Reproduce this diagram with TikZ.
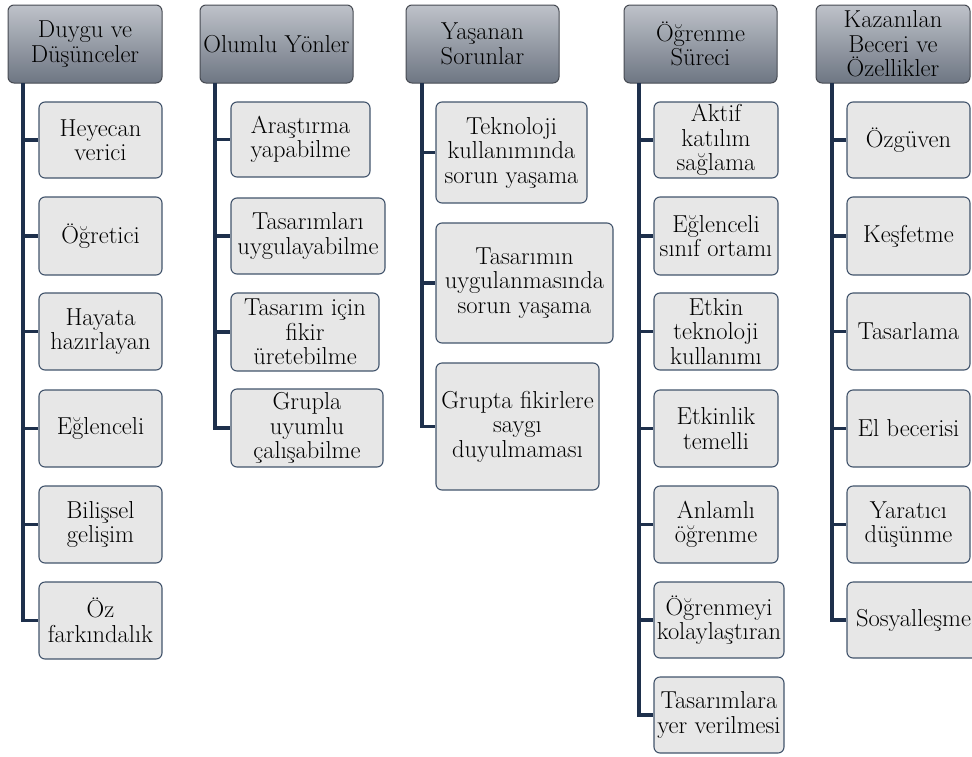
\documentclass[tikz,border=0pt]{standalone}
\usepackage{fontspec}
\definecolor{hdrTop}{RGB}{190,194,201}
\definecolor{hdrBot}{RGB}{110,118,131}
\definecolor{hdrLine}{RGB}{70,74,82}
\definecolor{childFill}{RGB}{231,231,231}
\definecolor{childLine}{RGB}{66,84,108}
\definecolor{connCol}{RGB}{30,48,76}
\tikzset{
  boxfont/.style={font=\fontsize{24.5}{24.5}\selectfont},
  header/.style={boxfont, rounded corners=6pt, top color=hdrTop, bottom color=hdrBot,
    draw=hdrLine, line width=1pt, inner sep=0pt, align=center, text=black},
  child/.style={boxfont, rounded corners=6pt, fill=childFill, draw=childLine,
    line width=1.1pt, inner sep=0pt, align=center, text=black},
  conn/.style={draw=connCol, line width=3.2pt, line join=miter}
}
\newcommand\placebox[7]{%
  \node[#1, minimum width={(#5-#3)*1pt}, minimum height={(#6-#4)*1pt}]
    (#2) at ({(#3+#5)/2},{(#4+#6)/2}) {#7};}
\begin{document}
\begin{tikzpicture}[x=1pt,y={(0pt,-1pt)}]
\useasboundingbox (0,0) rectangle (972,756);
% headers
\placebox{header}{h1}{8}{5}{162}{83}{Duygu ve\\Düşünceler}
\placebox{header}{h2}{200}{5}{353}{83}{Olumlu Yönler}
\placebox{header}{h3}{406}{5}{559}{83}{Yaşanan\\Sorunlar}
\placebox{header}{h4}{624}{5}{777}{83}{Öğrenme\\Süreci}
\placebox{header}{h5}{816}{5}{970}{83}{Kazanılan\\Beceri ve\\Özellikler}
% trunk tops
\coordinate (t1) at (23,83);
\coordinate (t2) at (215,83);
\coordinate (t3) at (422,83);
\coordinate (t4) at (639,83);
\coordinate (t5) at (832,83);
% column 1
\placebox{child}{a1}{39}{102}{162}{178}{Heyecan\\verici}
\placebox{child}{a2}{39}{197}{162}{275}{Öğretici}
\placebox{child}{a3}{39}{293}{162}{370}{Hayata\\hazırlayan}
\placebox{child}{a4}{39}{390}{162}{467}{Eğlenceli}
\placebox{child}{a5}{39}{486}{162}{563}{Bilişsel\\gelişim}
\placebox{child}{a6}{39}{582}{162}{659}{Öz\\farkındalık}
% column 2
\placebox{child}{b1}{231}{102}{370}{177}{Araştırma\\yapabilme}
\placebox{child}{b2}{231}{198}{385}{274}{Tasarımları\\uygulayabilme}
\placebox{child}{b3}{231}{293}{379}{371}{Tasarım için\\fikir\\üretebilme}
\placebox{child}{b4}{231}{389}{383}{467}{Grupla\\uyumlu\\çalışabilme}
% column 3
\placebox{child}{c1}{436}{102}{587}{203}{Teknoloji\\kullanımında\\sorun yaşama}
\placebox{child}{c2}{436}{223}{613}{343}{Tasarımın\\uygulanmasında\\sorun yaşama}
\placebox{child}{c3}{436}{363}{599}{490}{Grupta fikirlere\\saygı\\duyulmaması}
% column 4
\placebox{child}{d1}{654}{102}{778}{178}{Aktif\\katılım\\sağlama}
\placebox{child}{d2}{654}{197}{778}{275}{Eğlenceli\\sınıf ortamı}
\placebox{child}{d3}{654}{293}{778}{370}{Etkin\\teknoloji\\kullanımı}
\placebox{child}{d4}{654}{390}{778}{467}{Etkinlik\\temelli}
\placebox{child}{d5}{654}{486}{778}{563}{Anlamlı\\öğrenme}
\placebox{child}{d6}{654}{582}{784}{658}{Öğrenmeyi\\kolaylaştıran}
\placebox{child}{d7}{654}{677}{784}{753}{Tasarımlara\\yer verilmesi}
% column 5
\placebox{child}{e1}{847}{102}{970}{178}{Özgüven}
\placebox{child}{e2}{847}{197}{970}{275}{Keşfetme}
\placebox{child}{e3}{847}{293}{970}{370}{Tasarlama}
\placebox{child}{e4}{847}{390}{970}{467}{El becerisi}
\placebox{child}{e5}{847}{486}{970}{563}{Yaratıcı\\düşünme}
\placebox{child}{e6}{847}{582}{980}{658}{Sosyalleşme}
% connectors
\foreach \n in {a1,a2,a3,a4,a5,a6} \draw[conn] (t1) |- (\n.west);
\foreach \n in {b1,b2,b3,b4} \draw[conn] (t2) |- (\n.west);
\foreach \n in {c1,c2,c3} \draw[conn] (t3) |- (\n.west);
\foreach \n in {d1,d2,d3,d4,d5,d6,d7} \draw[conn] (t4) |- (\n.west);
\foreach \n in {e1,e2,e3,e4,e5,e6} \draw[conn] (t5) |- (\n.west);
\end{tikzpicture}
\end{document}
